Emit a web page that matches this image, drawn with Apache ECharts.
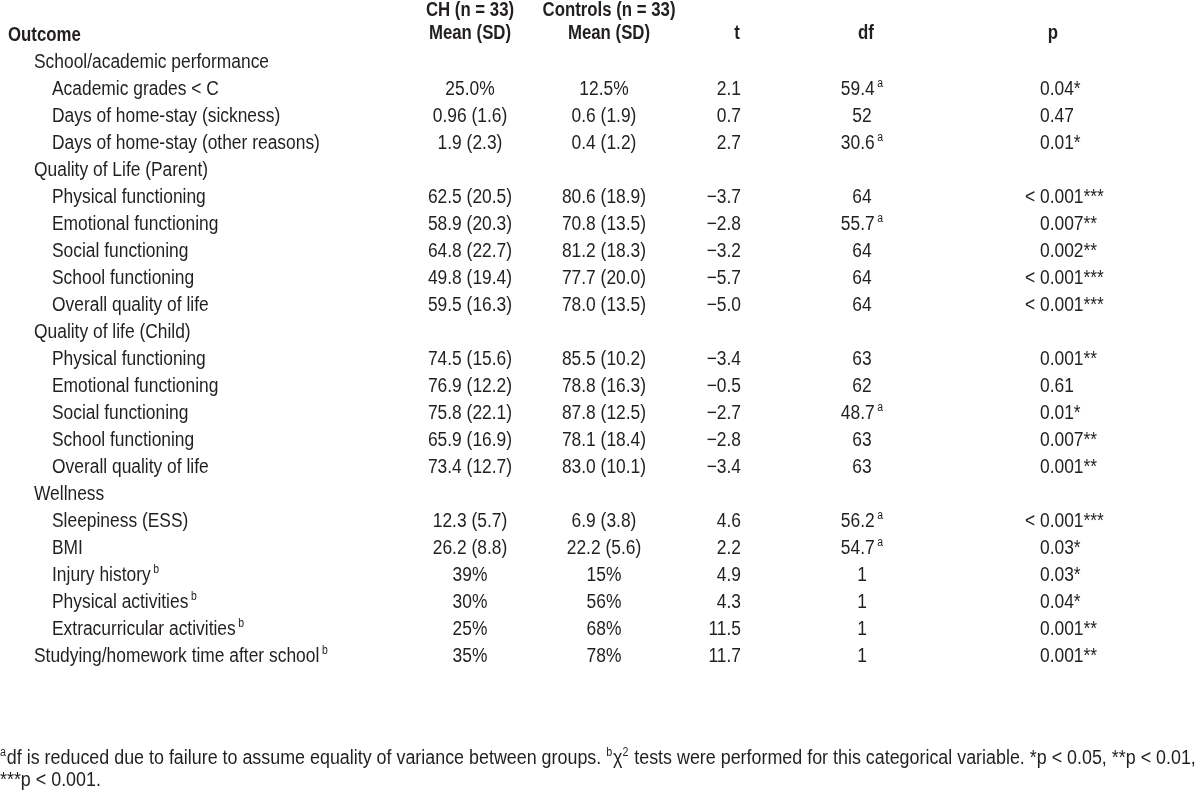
<!DOCTYPE html>
<html><head><meta charset="utf-8">
<script src="https://cdn.jsdelivr.net/npm/echarts@6/dist/echarts.min.js"></script>
<style>html,body{margin:0;padding:0;background:#fff}#c{width:1200px;height:798px}</style>
</head><body><div id="c"></div>
<script>
// ---- data ----
const outcomes = [
  'School/academic performance','Academic grades < C','Days of home-stay (sickness)','Days of home-stay (other reasons)',
  'Quality of Life (Parent)','Physical functioning','Emotional functioning','Social functioning','School functioning','Overall quality of life',
  'Quality of life (Child)','Physical functioning','Emotional functioning','Social functioning','School functioning','Overall quality of life',
  'Wellness','Sleepiness (ESS)','BMI','Injury history','Physical activities','Extracurricular activities','Studying/homework time after school'
];
const outcomeLevel = [0,1,1,1, 0,1,1,1,1,1, 0,1,1,1,1,1, 0,1,1,1,1,1,0];
const outcomeSup = ['','','','', '','','','','','', '','','','','','', '','','','b','b','b','b'];
const chValues = ['','25.0%','0.96 (1.6)','1.9 (2.3)', '','62.5 (20.5)','58.9 (20.3)','64.8 (22.7)','49.8 (19.4)','59.5 (16.3)',
  '','74.5 (15.6)','76.9 (12.2)','75.8 (22.1)','65.9 (16.9)','73.4 (12.7)', '','12.3 (5.7)','26.2 (8.8)','39%','30%','25%','35%'];
const controlValues = ['','12.5%','0.6 (1.9)','0.4 (1.2)', '','80.6 (18.9)','70.8 (13.5)','81.2 (18.3)','77.7 (20.0)','78.0 (13.5)',
  '','85.5 (10.2)','78.8 (16.3)','87.8 (12.5)','78.1 (18.4)','83.0 (10.1)', '','6.9 (3.8)','22.2 (5.6)','15%','56%','68%','78%'];
const tValues = ['','2.1','0.7','2.7', '','\u22123.7','\u22122.8','\u22123.2','\u22125.7','\u22125.0',
  '','\u22123.4','\u22120.5','\u22122.7','\u22122.8','\u22123.4', '','4.6','2.2','4.9','4.3','11.5','11.7'];
const dfValues = ['','59.4','52','30.6', '','64','55.7','64','64','64', '','63','62','48.7','63','63', '','56.2','54.7','1','1','1','1'];
const dfSup = ['','a','','a', '','','a','','','', '','','','a','','', '','a','a','','','',''];
const pValues = ['','0.04*','0.47','0.01*', '','< 0.001***','0.007**','0.002**','< 0.001***','< 0.001***',
  '','0.001**','0.61','0.01*','0.007**','0.001**', '','< 0.001***','0.03*','0.03*','0.04*','0.001**','0.001**'];
const headerCH = ['CH (n = 33)', 'Mean (SD)'];
const headerControls = ['Controls (n = 33)', 'Mean (SD)'];
const headerOutcome = 'Outcome';
const headerT = 't', headerDf = 'df', headerP = 'p';
const footnoteLine1 = [['sup','a'],['txt','df is reduced due to failure to assume equality of variance between groups. '],['sup','b'],['txt','\u03c7'],['sup','2'],['txt',' tests were performed for this categorical variable. *p < 0.05, **p < 0.01,']];
const footnoteLine2 = '***p < 0.001.';

// ---- layout ----
const FONT = "'Liberation Sans', Arial, sans-serif";
const FS = 20, COLOR = '#231f20', SX = 0.87, SXB = 0.84, SXF = 0.894;
const COL = { group: 34, item: 52, ch: 470, ctrl: 604, ctrlHead: 609, t: 741, df: 862, p: 1040 };
const richBase = {
  m: { fontSize: FS, fontFamily: FONT, fill: COLOR, lineHeight: 22 },
  s: { fontSize: 12, fontFamily: FONT, fill: COLOR, lineHeight: 12, verticalAlign: 'top', padding: [0,0,0,3] }
};
function txt(x, y, text, align, extra, sx) {
  return { type: 'text', x: x, y: y, scaleX: sx || SX, silent: true,
    style: Object.assign({ text: text, fontSize: FS, fontFamily: FONT, fill: COLOR, align: align || 'left', verticalAlign: 'middle' }, extra || {}) };
}
function supTxt(x, y, main, sup, align) {
  const t = sup ? '{m|' + main + '}{s|' + sup + '}' : '{m|' + main + '}';
  return { type: 'text', x: x, y: y, scaleX: SX, silent: true,
    style: { text: t, rich: richBase, align: align || 'left', verticalAlign: 'middle', fontSize: FS, fontFamily: FONT, fill: COLOR } };
}

const rowData = outcomes.map((o, i) => [0, i]);

function renderItem(params, api) {
  const i = api.value(1);
  const y = api.coord([0, i])[1];
  const kids = [];
  const x0 = outcomeLevel[i] === 0 ? COL.group : COL.item;
  kids.push(supTxt(x0, y, outcomes[i], outcomeSup[i], 'left'));
  if (chValues[i]) kids.push(txt(COL.ch, y, chValues[i], 'center'));
  if (controlValues[i]) kids.push(txt(COL.ctrl, y, controlValues[i], 'center'));
  if (tValues[i]) kids.push(txt(COL.t, y, tValues[i], 'right'));
  if (dfValues[i]) kids.push(supTxt(COL.df, y, dfValues[i], dfSup[i], 'center'));
  if (pValues[i]) {
    const p = pValues[i];
    if (p.indexOf('< ') === 0) {
      kids.push(txt(COL.p, y, '< ', 'right'));
      kids.push(txt(COL.p, y, p.slice(2), 'left'));
    } else {
      kids.push(txt(COL.p, y, p, 'left'));
    }
  }
  return { type: 'group', children: kids };
}

const chart = echarts.init(document.getElementById('c'), null, { renderer: 'canvas' });

const headerY1 = 10, headerY2 = 33;
const B = { fontWeight: 'bold' };
const graphics = [
  txt(8, 35, headerOutcome, 'left', B, SXB),
  txt(COL.ch, headerY1, headerCH[0], 'center', B, SXB),
  txt(COL.ch, headerY2, headerCH[1], 'center', B, SXB),
  txt(COL.ctrlHead, headerY1, headerControls[0], 'center', B, SXB),
  txt(COL.ctrlHead, headerY2, headerControls[1], 'center', B, SXB),
  txt(737, headerY2, headerT, 'center', B, SXB),
  txt(866, headerY2, headerDf, 'center', B, SXB),
  txt(1053, headerY2, headerP, 'center', B, SXB),
  { type: 'text', x: 0, y: 758, scaleX: SXF, silent: true, style: {
      text: footnoteLine1.map(p => '{' + (p[0] === 'sup' ? 's' : 'm') + '|' + p[1] + '}').join(''),
      rich: { m: richBase.m, s: Object.assign({}, richBase.s, { padding: [0,1,0,0] }) },
      align: 'left', verticalAlign: 'middle' } },
  txt(0, 780, footnoteLine2, 'left', null, SXF)
].map(g => Object.assign(g, { z: 10 }));

chart.setOption({
  animation: false,
  backgroundColor: '#fff',
  grid: { left: 0, right: 0, top: 48.5, height: 621 },
  xAxis: { type: 'value', min: 0, max: 1200, show: false },
  yAxis: { type: 'category', inverse: true, data: outcomes.map((o, i) => i), show: false },
  series: [{
    type: 'custom', renderItem: renderItem, data: rowData,
    encode: { x: 0, y: 1 }
  }],
  graphic: graphics
});
</script>
</body></html>
